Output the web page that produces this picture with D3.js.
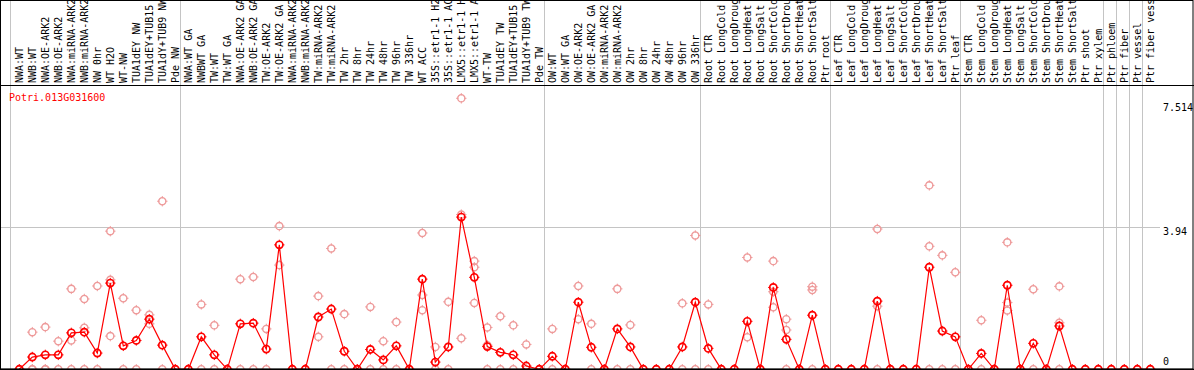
<!DOCTYPE html>
<html><head><meta charset="utf-8">
<script src="https://cdn.jsdelivr.net/npm/d3@7/dist/d3.min.js"></script>
<style>
html,body{margin:0;padding:0;background:#fff;}
svg{display:block;}
text{font-family:"DejaVu Sans Mono",monospace;font-size:10px;}
</style></head>
<body>
<svg id="chart" width="1194" height="370"></svg>
<script>
const geneName = "Potri.013G031600";

const categories = [
"NWA:WT","NWB:WT","NWA:OE-ARK2","NWB:OE-ARK2","NWA:miRNA-ARK2","NWB:miRNA-ARK2","NW 0hr","WT H2O","WT-NW","TUA1dEY NW","TUA1dEY+TUB15 NW","TUA1dY+TUB9 NW","Pde NW",
"NWA:WT GA","NWBWT GA","TW:WT","TW:WT GA","NWA:OE-ARK2 GA","NWB:OE-ARK2 GA","TW:OE-ARK2","TW:OE-ARK2 GA","NWA:miRNA-ARK2","NWB:miRNA-ARK2","TW:miRNA-ARK2","TW:miRNA-ARK2","TW 2hr","TW 8hr","TW 24hr","TW 48hr","TW 96hr","TW 336hr","WT ACC","35S::etr1-1 H2O","35S::etr1-1 ACC","LMX5::etr1-1 H2O","LMX5::etr1-1 ACC","WT-TW","TUA1dEY TW","TUA1dEY+TUB15 TW","TUA1dY+TUB9 TW","Pde TW",
"OW:WT","OW:WT GA","OW:OE-ARK2","OW:OE-ARK2 GA","OW:miRNA-ARK2","OW:miRNA-ARK2","OW 2hr","OW 8hr","OW 24hr","OW 48hr","OW 96hr","OW 336hr",
"Root CTR","Root LongCold","Root LongDrought","Root LongHeat","Root LongSalt","Root ShortCold","Root ShortDrought","Root ShortHeat","Root ShortSalt","Ptr root",
"Leaf CTR","Leaf LongCold","Leaf LongDrought","Leaf LongHeat","Leaf LongSalt","Leaf ShortCold","Leaf ShortDrought","Leaf ShortHeat","Leaf ShortSalt","Ptr leaf",
"Stem CTR","Stem LongCold","Stem LongDrought","Stem LongHeat","Stem LongSalt","Stem ShortCold","Stem ShortDrought","Stem ShortHeat","Stem ShortSalt","Ptr shoot","Ptr xylem",
"Ptr phloem","Ptr fiber","Ptr vessel","Ptr fiber vessel"
];

// index of first category in each group, plus the end
const groupStarts = [0,13,41,53,63,73,84,85,86,87,88];

const means = [
0,0.34,0.40,0.40,1.01,1.03,0.45,2.39,0.65,0.80,1.39,0.67,0,
0,0.90,0.40,0,1.26,1.28,0.56,3.45,0,0,1.45,1.67,0.50,0,0.55,0.26,0.65,0,2.50,0.20,0.62,4.22,2.55,0.63,0.47,0.40,0.09,0,
0.36,0,1.86,0.61,0,1.12,0.62,0,0,0,0.62,1.86,
0.58,0,0,1.33,0,2.27,0.83,0,1.50,0,
0,0,0,1.89,0,0,0,2.83,1.06,0.90,
0,0.44,0,2.33,0,0.72,0,1.20,0,0,0,
0,0,0,0
];

const replicates = [
[0],[1.03,0,0],[1.17,0,0],[0.78,0],[2.23,0.80,0],[1.95,1.15,0],[2.31,0],[3.83,2.48,0.92],[1.97,0],[1.64,0],[1.51,1.26],[4.66,0],[0],
[0],[1.80,0],[1.22,0],[0],[2.50,0],[2.56,0],[1.12,0],[3.97,2.89],[0],[0],[2.03,0.90],[3.35,0],[1.53,0],[0],[1.73,0],[0.78,0],[1.31,0],[0],[3.78,2.06,1.64],[0.62,0],[1.87,0],[7.514,4.29,0.86],[3.00,2.83,1.84],[1.16,0.67,0],[1.47,0],[1.22,0],[0.69,0],[0],
[1.12,0],[0],[2.31,1.39],[1.26,0],[0],[2.23,0],[1.23,0],[0],[0],[0],[1.83,0],[3.71,0],
[1.80,0],[0],[0],[3.10,0.89],[0],[3.00,2.15,1.72],[1.39,1.09,0],[0],[2.29,2.20,0],[0],
[0],[0],[0],[3.89,1.75,0],[0],[0],[0],[5.10,3.41,0],[3.16,0],[2.69,0],
[0],[1.36,0],[0],[3.52,1.85,1.63],[0],[2.22,0],[0],[2.30,1.29,0],[0],[0],[0],
[0],[0],[0],[0]
];

const yTickValues = [0, 3.94, 7.514];
const yTickLabels = ["0", "3.94", "7.514"];

const W = 1194, H = 370;
const svg = d3.select("#chart");

const idx = d3.range(categories.length);
const x = d3.scaleBand().domain(idx).range([12.8, 12.8 + 13 * categories.length]).padding(0);
const cx = i => x(i) + x.bandwidth() / 2;
const y = d3.scaleLinear().domain([0, d3.max(yTickValues)]).range([369.3, 98.3]);

const headerY = 85;

// group separator lines (full height)
const seps = groupStarts.map(g => (g === 0 ? x(0) - 2.5 : x(g) - 1.5));
svg.append("g").selectAll("line").data(seps).join("line")
  .attr("x1", d => Math.round(d) + 0.5).attr("x2", d => Math.round(d) + 0.5)
  .attr("y1", 0).attr("y2", H)
  .attr("stroke", "#c4c4c4").attr("stroke-width", 1);

// horizontal gridline for middle tick
svg.append("line")
  .attr("x1", 0).attr("x2", 1160)
  .attr("y1", Math.round(y(yTickValues[1])) + 0.5).attr("y2", Math.round(y(yTickValues[1])) + 0.5)
  .attr("stroke", "#c4c4c4").attr("stroke-width", 1);

// header separator
svg.append("line").attr("x1", 0).attr("x2", W).attr("y1", headerY + 0.5).attr("y2", headerY + 0.5)
  .attr("stroke", "#000").attr("stroke-width", 1);

// category labels (rotated)
svg.append("g").selectAll("text").data(idx).join("text")
  .attr("transform", i => `translate(${cx(i) + 3.6},${headerY - 2}) rotate(-90)`)
  .attr("fill", "#000")
  .text(i => categories[i]);

// gene name
svg.append("text").attr("x", 9).attr("y", 101).attr("fill", "#ff0000").text(geneName);

// y labels at right
const labOff = [-4, 7.5, 12.5];
svg.append("g").selectAll("text").data(yTickValues).join("text")
  .attr("x", 1163)
  .attr("y", (d, i) => y(d) + labOff[i])
  .attr("fill", "#000")
  .text((d, i) => yTickLabels[i]);

// marker drawing
function marker(g, color, sw) {
  g.append("circle").attr("r", 3.6).attr("fill", "none").attr("stroke", color).attr("stroke-width", sw);
  [[0,-1],[0,1],[-1,0],[1,0]].forEach(([dx,dy]) => {
    g.append("line")
      .attr("x1", dx * 2.8).attr("y1", dy * 2.8)
      .attr("x2", dx * 5.2).attr("y2", dy * 5.2)
      .attr("stroke", color).attr("stroke-width", 1);
  });
}

// replicate points
const repPts = [];
replicates.forEach((arr, i) => arr.forEach(v => repPts.push({i, v})));
svg.append("g").selectAll("g").data(repPts).join("g")
  .attr("transform", d => `translate(${cx(d.i)},${y(d.v)})`)
  .each(function() { marker(d3.select(this), "#ee9a9a", 1.3); });

// mean line
svg.append("path")
  .datum(idx)
  .attr("fill", "none").attr("stroke", "#ff0000").attr("stroke-width", 1.2)
  .attr("d", d3.line().x(i => cx(i)).y(i => y(means[i])));

// mean points
svg.append("g").selectAll("g").data(idx).join("g")
  .attr("transform", i => `translate(${cx(i)},${y(means[i])})`)
  .each(function() { marker(d3.select(this), "#ff0000", 1.7); });

// border
svg.append("rect").attr("x", 0.5).attr("y", 0.5).attr("width", W - 1.5).attr("height", 368.5)
  .attr("fill", "none").attr("stroke", "#000").attr("stroke-width", 1);
svg.append("line").attr("x1", 0).attr("x2", W).attr("y1", 369.5).attr("y2", 369.5).attr("stroke", "#000").attr("stroke-width", 1.5);
</script>
</body></html>
